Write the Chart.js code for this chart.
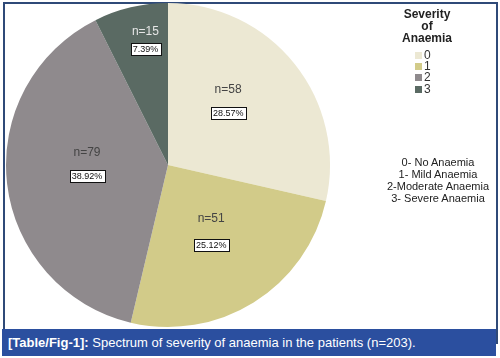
<!DOCTYPE html>
<html>
<head>
<meta charset="utf-8">
<script src="https://cdn.jsdelivr.net/npm/chart.js@4.4.1/dist/chart.umd.min.js"></script>
<style>
  html, body { margin: 0; padding: 0; background: #fff; }
  #wrap { position: relative; width: 500px; height: 358px; overflow: hidden; font-family: "Liberation Sans", Arial, sans-serif; }
  #frame { position: absolute; left: 3px; top: 2px; width: 491px; height: 340px; border-left: 2px solid #2f4a78; border-top: 2px solid #2f4a78; border-right: 2px solid #2f4a78; }
  #pie { position: absolute; left: 0; top: 0; }
  .legTitle { position: absolute; left: 387px; top: 8px; width: 80px; text-align: center; font-weight: bold; font-size: 12px; line-height: 12px; color: #222; }
  .legItem { position: absolute; left: 415px; font-size: 12px; line-height: 12px; color: #333; }
  .legItem span { display: inline-block; width: 7px; height: 7px; margin-right: 2px; vertical-align: 0px; }
  .notes { position: absolute; left: 372px; top: 156px; width: 132px; text-align: center; font-size: 11px; line-height: 12px; color: #222; }
  #caption { position: absolute; left: 2px; top: 329px; width: 494px; height: 27px; background: #2b4f9f; color: #fff; font-size: 13px; line-height: 27px; padding-left: 6px; box-sizing: border-box; font-family: "Liberation Sans", Arial, sans-serif; }
  #caption b { font-weight: bold; }
</style>
</head>
<body>
<div id="wrap">
  <div id="frame"></div>
  <canvas id="pie" width="500" height="358"></canvas>
  <div class="legTitle">Severity<br>of<br>Anaemia</div>
  <div id="legend"></div>
  <div class="notes" id="notes"></div>
  <div id="caption"><b>[Table/Fig-1]:</b> Spectrum of severity of anaemia in the patients (n=203).</div>
</div>

<script>
// data
var categories = ['0', '1', '2', '3'];
var counts = [58, 51, 79, 15];
var descriptions = ['0- No Anaemia', '1- Mild Anaemia', '2-Moderate Anaemia', '3- Severe Anaemia'];

// look
var colors = ['#ece8d3', '#d2cb89', '#8f8a8d', '#5a6a63'];
var nColors = ['#444', '#444', '#444', '#e6e6e6'];
// label placement: angle shift (deg) from slice middle, radius fraction, half gap between n= and %
var labelShift = [-8, -1, 7, 3];
var labelRadius = [0.54, 0.49, 0.5, 0.78];
var labelGap = [12, 13, 11.5, 8.5];

var total = counts.reduce(function(a, b){ return a + b; }, 0);

// legend + notes as html text
var leg = document.getElementById('legend');
for (var i = 0; i < categories.length; i++) {
	var d = document.createElement('div');
	d.className = 'legItem';
	d.style.top = (49 + i * 11.2) + 'px';
	d.innerHTML = '<span style="background:' + colors[i] + '"></span>' + categories[i];
	leg.appendChild(d);
}
document.getElementById('notes').innerHTML = descriptions.join('<br>');

var sliceLabels = {
	id: 'sliceLabels',
	afterDatasetsDraw: function(chart) {
		var ctx = chart.ctx;
		var meta = chart.getDatasetMeta(0);
		meta.data.forEach(function(arc, i) {
			var mid = (arc.startAngle + arc.endAngle) / 2 + labelShift[i] * Math.PI / 180;
			var r = arc.outerRadius * labelRadius[i];
			var x = arc.x + Math.cos(mid) * r;
			var y = arc.y + Math.sin(mid) * r;
			ctx.save();
			ctx.textAlign = 'center';
			ctx.textBaseline = 'middle';
			ctx.font = '12px "Liberation Sans", Arial, sans-serif';
			ctx.fillStyle = nColors[i];
			ctx.fillText('n=' + counts[i], x, y - labelGap[i]);

			var pct = (counts[i] / total * 100).toFixed(2) + '%';
			ctx.font = '9px "Liberation Sans", Arial, sans-serif';
			var w = ctx.measureText(pct).width + 4;
			var by = y + labelGap[i];
			ctx.fillStyle = '#fff';
			ctx.fillRect(Math.round(x - w / 2) + 0.5, Math.round(by - 6) + 0.5, Math.round(w), 12);
			ctx.strokeStyle = '#111';
			ctx.lineWidth = 1;
			ctx.strokeRect(Math.round(x - w / 2) + 0.5, Math.round(by - 6) + 0.5, Math.round(w), 12);
			ctx.fillStyle = '#111';
			ctx.fillText(pct, x, by + 0.5);
			ctx.restore();
		});
	}
};

new Chart(document.getElementById('pie').getContext('2d'), {
	type: 'pie',
	data: {
		labels: categories,
		datasets: [{
			data: counts,
			backgroundColor: colors,
			borderWidth: 0
		}]
	},
	options: {
		responsive: false,
		animation: false,
		layout: { padding: { left: 6, right: 170, top: 3, bottom: 31 } },
		plugins: {
			legend: { display: false },
			tooltip: { enabled: false }
		}
	},
	plugins: [sliceLabels]
});
</script>
</body>
</html>
